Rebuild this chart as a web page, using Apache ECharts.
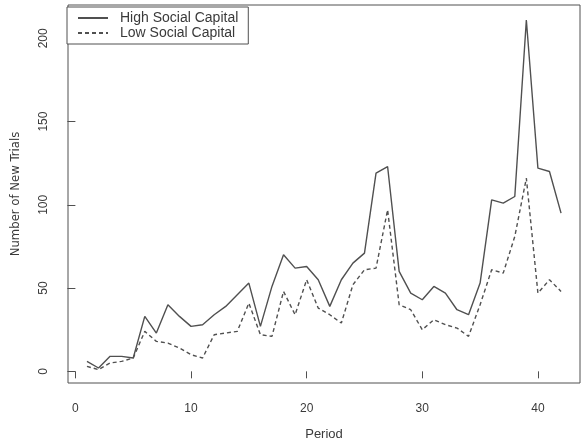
<!DOCTYPE html>
<html>
<head>
<meta charset="utf-8">
<script src="https://cdn.jsdelivr.net/npm/echarts@6/dist/echarts.min.js"></script>
<style>
  html, body { margin: 0; padding: 0; background: #fff; }
  #chart { width: 585px; height: 446px; }
</style>
</head>
<body>
<div id="chart"></div>
<script>
// periods 1..42
const periods = Array.from({ length: 42 }, (_, i) => i + 1)

const highSocial = [6, 2, 9, 9, 8, 33, 23, 40, 33, 27, 28, 34, 39, 46, 53, 27, 51, 70, 62, 63,
  55, 39, 55, 65, 71, 119, 123, 60, 47, 43, 51, 47, 37, 34, 53, 103, 101, 105, 211, 122, 120, 95]
const lowSocial = [3, 1, 5, 6, 8, 24, 18, 17, 14, 10, 8, 22, 23, 24, 41, 22, 21, 48, 34, 55,
  38, 34, 29, 52, 61, 62, 97, 40, 37, 25, 31, 28, 26, 21, 40, 61, 59, 81, 116, 47, 55, 48]

const xTicks = [0, 10, 20, 30, 40]
const yTicks = [0, 50, 100, 150, 200]

const ink = '#505050'
const textColor = '#3a3a3a'
const font = '"Liberation Sans", Arial, sans-serif'

const chart = echarts.init(document.getElementById('chart'))

const toPairs = (vals) => vals.map((v, i) => [periods[i], v])

const option = {
  animation: false,
  backgroundColor: '#fff',
  grid: {
    left: 68,
    right: 5,
    top: 5,
    bottom: 59,
    show: true,
    borderColor: ink,
    borderWidth: 1
  },
  legend: {
    left: 67,
    top: 7,
    orient: 'vertical',
    itemWidth: 30,
    itemHeight: 10,
    itemGap: 1,
    padding: [4, 10, 4, 10],
    borderColor: ink,
    borderWidth: 1,
    backgroundColor: '#fff',
    itemStyle: { opacity: 0 },
    textStyle: { fontFamily: font, fontSize: 14, color: textColor, padding: [0, 0, 0, 7] },
    data: ['High Social Capital', 'Low Social Capital']
  },
  xAxis: {
    type: 'value',
    min: -0.64,
    max: 43.64,
    name: 'Period',
    nameLocation: 'middle',
    nameGap: 45,
    nameTextStyle: { fontFamily: font, fontSize: 13, color: textColor },
    splitLine: { show: false },
    axisLine: { show: false },
    axisTick: { show: true, customValues: xTicks, length: 7, lineStyle: { color: ink } },
    axisLabel: { customValues: xTicks, margin: 20, fontFamily: font, fontSize: 12, color: textColor }
  },
  yAxis: {
    type: 'value',
    min: -7,
    max: 220,
    name: 'Number of New Trials',
    nameLocation: 'middle',
    nameRotate: 90,
    nameGap: 46,
    nameTextStyle: { fontFamily: '"Liberation Sans Narrow", "DejaVu Sans Condensed", sans-serif', fontSize: 13, color: textColor },
    splitLine: { show: false },
    axisLine: { show: false },
    axisTick: { show: true, customValues: yTicks, length: 8, lineStyle: { color: ink } },
    axisLabel: { customValues: yTicks, rotate: 90, margin: 18, fontFamily: font, fontSize: 12, color: textColor }
  },
  series: [
    {
      name: 'High Social Capital',
      type: 'line',
      symbol: 'none',
      data: toPairs(highSocial),
      lineStyle: { color: ink, width: 1.4, type: 'solid' },
      itemStyle: { color: ink }
    },
    {
      name: 'Low Social Capital',
      type: 'line',
      symbol: 'none',
      data: toPairs(lowSocial),
      lineStyle: { color: ink, width: 1.4, type: [4, 3] },
      itemStyle: { color: ink }
    }
  ]
}

chart.setOption(option)
</script>
</body>
</html>
